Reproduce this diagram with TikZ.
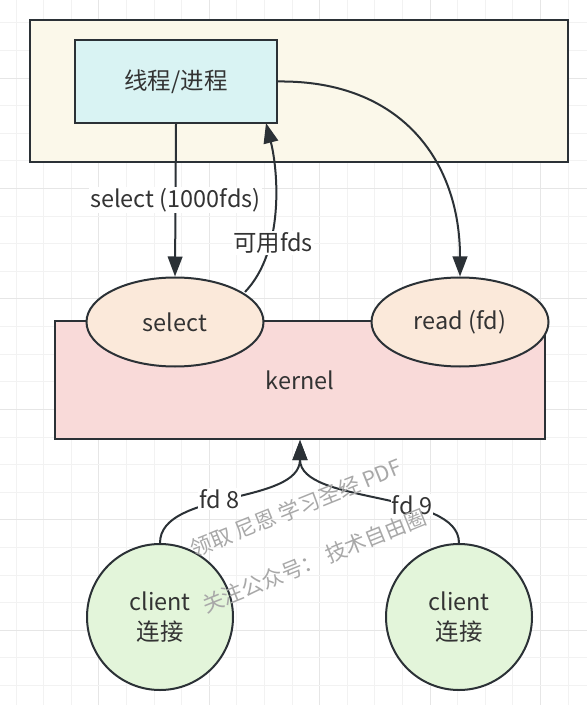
\documentclass[tikz,border=0pt]{standalone}
\usepackage{fontspec}
\setmainfont{Noto Sans CJK SC}
\usetikzlibrary{arrows.meta}
\usetikzlibrary{shapes.geometric}
\newdimen\px
\px=0.75pt
\definecolor{inkline}{HTML}{2B3136}
\definecolor{inktext}{HTML}{333333}
\definecolor{hostfill}{HTML}{FBF8EA}
\definecolor{procfill}{HTML}{D9F3F3}
\definecolor{kernfill}{HTML}{F9DAD9}
\definecolor{callfill}{HTML}{FBE9DA}
\definecolor{clifill}{HTML}{E3F5DA}
\definecolor{markgray}{HTML}{A8A8A8}

\begin{document}
\begin{tikzpicture}[
    x=0.75pt, y=-0.75pt,
    font=\fontsize{17.6pt}{21pt}\selectfont,
    text=inktext,
    box/.style={
      draw=inkline, line width=1.5pt, rectangle, inner sep=0pt
    },
    call/.style={
      draw=inkline, line width=1.5pt, ellipse, fill=callfill,
      minimum width=177\px, minimum height=89\px, inner sep=0pt
    },
    client/.style={
      draw=inkline, line width=1.5pt, circle, fill=clifill,
      minimum size=146\px, inner sep=0pt, align=center
    },
    arrowtip/.style={
      draw=inkline, line width=1.5pt,
      -{Triangle[length=15pt,width=11pt]}
    },
    lbl/.style={
      fill=white, inner sep=1pt
    },
    wmark/.style={
      rotate=22, text=markgray, font=\fontsize{16pt}{19pt}\selectfont
    },
    minorgrid/.style={draw={rgb,255:red,242;green,242;blue,242}, line width=0.75pt},
    majorgrid/.style={draw={rgb,255:red,230;green,230;blue,230}, line width=0.75pt}
  ]
    \useasboundingbox (0,0) rectangle (587,705);
    \fill[white] (0,0) rectangle (587,705);
    % grid
    \foreach \gx in {0,...,20} {
      \pgfmathtruncatemacro\gm{mod(\gx,4)}
      \ifnum\gm=3
        \draw[majorgrid] ({16+27.6*\gx},0) -- ({16+27.6*\gx},705);
      \else
        \draw[minorgrid] ({16+27.6*\gx},0) -- ({16+27.6*\gx},705);
      \fi
    }
    \foreach \gy in {0,...,24} {
      \pgfmathtruncatemacro\gm{mod(\gy,4)}
      \ifnum\gm=2
        \draw[majorgrid] (0,{23+27.6*\gy}) -- (587,{23+27.6*\gy});
      \else
        \draw[minorgrid] (0,{23+27.6*\gy}) -- (587,{23+27.6*\gy});
      \fi
    }

    \node[box, fill=hostfill, minimum width=538\px, minimum height=142\px] (Host) at (299,91) {};
    \node[box, fill=procfill, minimum width=202\px, minimum height=83\px] (Proc) at (176,81.5) {线程/进程};
    \node[box, fill=kernfill, minimum width=490\px, minimum height=118\px] (Kernel) at (300,380) {kernel};
    \node[call] (Sel) at (175,322) {select};
    \node[call] (Rd) at (460,322) {read (fd)};
    \node[client] (CliA) at (160,617) {client\\[1pt]连接};
    \node[client] (CliB) at (459,617) {client\\[1pt]连接};

    \draw[arrowtip] (Proc.south) -- node[lbl, pos=0.5] {select (1000fds)} (Sel.north);
    \coordinate (SelOut) at (245,292);
    \coordinate (ProcIn) at (266,123);
    \draw[arrowtip] (SelOut) .. controls (285,250) and (278,170) .. (ProcIn);
    \node[lbl] (Avail) at (273,243) {可用fds};
    \draw[arrowtip] (Proc.east) .. controls (400,80) and (460,160) .. (Rd.north);

    \draw[arrowtip] (CliA.north) .. controls (160,490) and (300,505) .. (Kernel.south)
      node[lbl, pos=0.45] {fd 8};
    \draw[arrowtip] (CliB.north) .. controls (459,490) and (300,505) .. (Kernel.south)
      node[lbl, pos=0.36] {fd 9};

    % watermark
    \node[wmark] (MarkA) at (296,508) {领取 尼恩 学习圣经 PDF};
    \node[wmark] (MarkB) at (314,561) {关注公众号： 技术自由圈};
  \end{tikzpicture}
\end{document}
